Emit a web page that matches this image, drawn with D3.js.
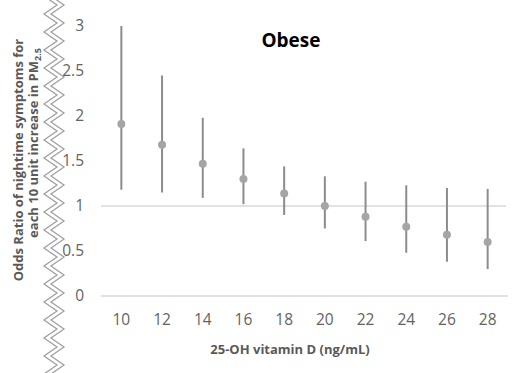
<!DOCTYPE html>
<html>
<head>
<meta charset="utf-8">
<script src="https://cdn.jsdelivr.net/npm/d3@7"></script>
<style>
  body { margin: 0; background: #fff; }
  svg { display: block; font-family: "Open Sans", sans-serif; }
</style>
</head>
<body>
<svg id="chart"></svg>
<script>
// vitamin D levels and odds ratios (obese group)
var vitD = ["10", "12", "14", "16", "18", "20", "22", "24", "26", "28"];
var oddsRatio = [1.91, 1.68, 1.47, 1.30, 1.14, 1.00, 0.88, 0.77, 0.68, 0.60];
var lowerCI = [1.18, 1.15, 1.09, 1.02, 0.90, 0.75, 0.61, 0.48, 0.38, 0.30];
var upperCI = [3.00, 2.45, 1.98, 1.64, 1.44, 1.33, 1.27, 1.23, 1.20, 1.19];
var yTicks = [0, 0.5, 1, 1.5, 2, 2.5, 3];

var totalWidth = 521;
var totalHeight = 373;

var svg = d3.select("#chart")
    .attr("width", totalWidth)
    .attr("height", totalHeight);

var x = d3.scaleBand().domain(vitD).range([101, 508]);
var y = d3.scaleLinear().domain([0, 3]).range([296, 26]);

// reference line at 1 and base line at 0
svg.append("line")
    .attr("x1", 101).attr("x2", 506)
    .attr("y1", y(1)).attr("y2", y(1))
    .attr("stroke", "#d9d9d9").attr("stroke-width", 1.3);
svg.append("line")
    .attr("x1", 101).attr("x2", 508)
    .attr("y1", y(0)).attr("y2", y(0))
    .attr("stroke", "#d9d9d9").attr("stroke-width", 1.3);

// y tick labels
svg.append("g")
    .selectAll("text")
    .data(yTicks)
    .enter()
    .append("text")
    .attr("x", 84)
    .attr("y", function (d) { return y(d); })
    .attr("dy", "0.35em")
    .attr("text-anchor", "end")
    .attr("font-size", 15.5)
    .attr("fill", "#636363")
    .text(function (d) { return d; });

// x tick labels
svg.append("g")
    .selectAll("text")
    .data(vitD)
    .enter()
    .append("text")
    .attr("x", function (d) { return x(d) + x.bandwidth() / 2; })
    .attr("y", 320)
    .attr("dy", "0.35em")
    .attr("text-anchor", "middle")
    .attr("font-size", 15.5)
    .attr("fill", "#636363")
    .text(function (d) { return d; });

// error bars
svg.append("g")
    .selectAll("line")
    .data(vitD)
    .enter()
    .append("line")
    .attr("x1", function (d) { return x(d) + x.bandwidth() / 2; })
    .attr("x2", function (d) { return x(d) + x.bandwidth() / 2; })
    .attr("y1", function (d, i) { return y(upperCI[i]); })
    .attr("y2", function (d, i) { return y(lowerCI[i]); })
    .attr("stroke", "#8c8c8c")
    .attr("stroke-width", 2);

// points
svg.append("g")
    .selectAll("circle")
    .data(vitD)
    .enter()
    .append("circle")
    .attr("cx", function (d) { return x(d) + x.bandwidth() / 2; })
    .attr("cy", function (d, i) { return y(oddsRatio[i]); })
    .attr("r", 4)
    .attr("fill", "#a5a5a5");

// title
svg.append("text")
    .attr("x", 291)
    .attr("y", 47)
    .attr("text-anchor", "middle")
    .attr("font-size", 19)
    .attr("font-weight", "bold")
    .attr("fill", "#000")
    .text("Obese");

// x axis title
svg.append("text")
    .attr("x", 290)
    .attr("y", 349)
    .attr("dy", "0.35em")
    .attr("text-anchor", "middle")
    .attr("font-size", 13)
    .attr("font-weight", "bold")
    .attr("fill", "#595959")
    .text("25-OH vitamin D (ng/mL)");

// y axis title, two lines
svg.append("text")
    .attr("transform", "translate(18,160) rotate(-90)")
    .attr("dy", "0.35em")
    .attr("text-anchor", "middle")
    .attr("font-size", 13)
    .attr("font-weight", "bold")
    .attr("fill", "#595959")
    .text("Odds Ratio of nightime symptoms for");

var line2 = svg.append("text")
    .attr("transform", "translate(33,143) rotate(-90)")
    .attr("dy", "0.35em")
    .attr("text-anchor", "middle")
    .attr("font-size", 13)
    .attr("font-weight", "bold")
    .attr("fill", "#595959");
line2.append("tspan").text("each  10 unit increase in PM");
line2.append("tspan").attr("font-size", 9).attr("dy", "0.35em").text("2.5");

// zigzag break on the left
var zigPts = [];
for (var yy = -4, k = 0; yy <= totalHeight + 20; yy += 9, k++) {
    zigPts.push([k % 2 == 0 ? 44 : 57, yy]);
}
var zig = d3.line();
var shifted = zigPts.map(function (p) { return [p[0] + 7, p[1]]; });
svg.append("path")
    .attr("d", zig(zigPts.concat(shifted.slice().reverse())) + "Z")
    .attr("fill", "#fff");
svg.append("path")
    .attr("d", zig(zigPts))
    .attr("fill", "none")
    .attr("stroke", "#a0a0a0")
    .attr("stroke-width", 1.3);
svg.append("path")
    .attr("d", zig(shifted))
    .attr("fill", "none")
    .attr("stroke", "#a0a0a0")
    .attr("stroke-width", 1.3);
</script>
</body>
</html>
